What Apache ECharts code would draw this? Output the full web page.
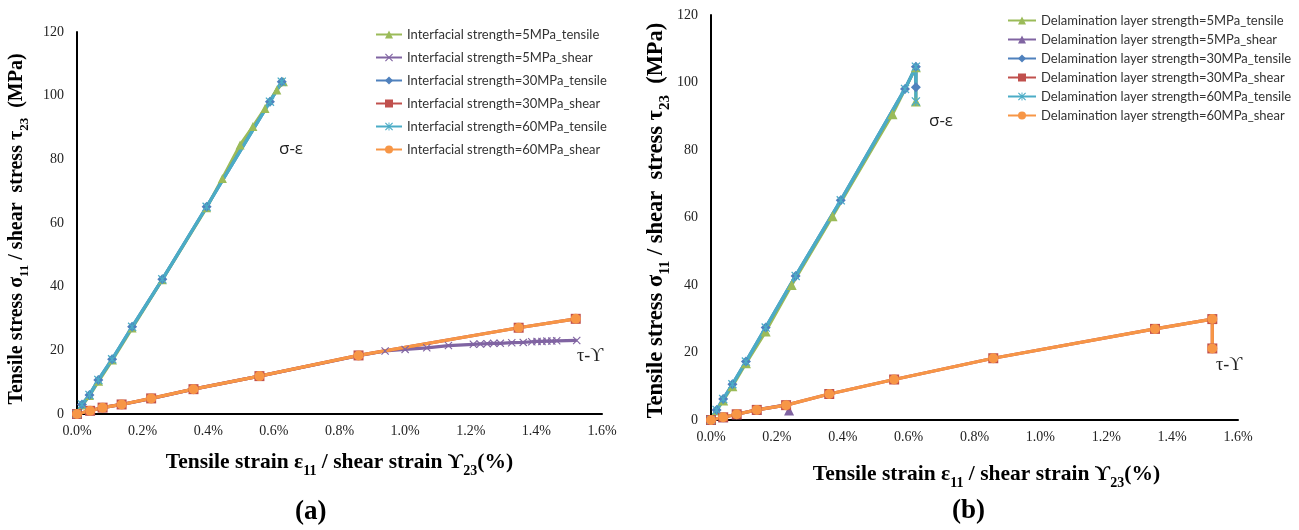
<!DOCTYPE html>
<html>
<head>
<meta charset="utf-8">
<script src="https://cdn.jsdelivr.net/npm/echarts@6/dist/echarts.min.js"></script>
<style>
  html, body { margin: 0; padding: 0; background: #fff; }
  #chart { width: 1299px; height: 530px; }
</style>
</head>
<body>
<div id="chart"></div>
<script>
// tick labels
var yTicks = [0, 20, 40, 60, 80, 100, 120];
var xTicks = [0, 0.2, 0.4, 0.6, 0.8, 1.0, 1.2, 1.4, 1.6];

// (a) interfacial strength, [strain %, stress MPa]
var aTensile5 = [[0,0],[0.017,2.8],[0.038,5.8],[0.066,10.3],[0.108,17.0],[0.168,27.0],[0.26,42.2],[0.395,64.8],[0.443,74.0],[0.497,84.5],[0.536,90.3],[0.573,96.0],[0.609,101.8],[0.629,104.4]];
var aShear5 = [[0,0],[0.04,1.0],[0.078,2.0],[0.136,3.0],[0.226,4.8],[0.355,7.8],[0.556,11.9],[0.858,18.3],[0.939,19.8],[1.0,20.3],[1.066,20.8],[1.132,21.5],[1.208,21.9],[1.229,22.0],[1.25,22.1],[1.27,22.2],[1.29,22.2],[1.325,22.4],[1.36,22.5],[1.386,22.7],[1.402,22.8],[1.417,22.8],[1.432,22.9],[1.447,22.9],[1.462,23.0],[1.523,23.1]];
var aTensile30 = [[0,0],[0.015,3.0],[0.038,6.0],[0.065,10.7],[0.107,17.2],[0.168,27.4],[0.26,42.3],[0.395,65.1],[0.588,98.1],[0.624,104.4]];
var aShear30 = [[0,0],[0.04,1.0],[0.078,2.0],[0.136,3.0],[0.226,4.9],[0.355,7.8],[0.556,11.9],[0.858,18.4],[1.346,27.1],[1.52,29.9]];
var aTensile60 = [[0,0],[0.015,3.0],[0.038,6.0],[0.065,10.7],[0.107,17.2],[0.168,27.4],[0.26,42.3],[0.395,65.1],[0.588,98.1],[0.624,104.4]];
var aShear60 = [[0,0],[0.04,1.0],[0.078,2.0],[0.136,3.0],[0.226,4.9],[0.355,7.8],[0.556,11.9],[0.858,18.4],[1.346,27.1],[1.52,29.9]];

// (b) delamination layer strength
var bTensile5 = [[0,0],[0.017,2.8],[0.037,5.8],[0.065,10.0],[0.106,16.8],[0.166,26.2],[0.245,40.0],[0.369,60.4],[0.551,90.6],[0.622,104.5],[0.622,94.4]];
var bShear5 = [[0,0],[0.037,0.8],[0.078,1.7],[0.139,3.0],[0.228,4.5],[0.237,2.8]];
var bTensile30 = [[0,0],[0.017,3.0],[0.037,6.2],[0.065,10.6],[0.106,17.3],[0.166,27.4],[0.257,42.7],[0.394,65.1],[0.589,98.1],[0.622,104.7],[0.622,98.6]];
var bShear30 = [[0,0],[0.037,0.8],[0.078,1.7],[0.139,3.0],[0.228,4.4],[0.359,7.7],[0.556,12.0],[0.857,18.3],[1.348,27.0],[1.522,29.9],[1.522,21.2]];
var bTensile60 = [[0,0],[0.017,3.0],[0.037,6.2],[0.065,10.6],[0.106,17.3],[0.166,27.4],[0.257,42.7],[0.394,65.1],[0.589,98.1],[0.622,104.7],[0.622,94.4]];
var bShear60 = [[0,0],[0.037,0.8],[0.078,1.7],[0.139,3.0],[0.228,4.4],[0.359,7.7],[0.556,12.0],[0.857,18.3],[1.348,27.0],[1.522,29.9],[1.522,21.2]];

var C = { green: '#9BBB59', purple: '#8064A2', blue: '#4F81BD', red: '#C0504D', cyan: '#4BACC6', orange: '#F79646' };
var SYM_X = 'path://M0,1L1,0L5,4L9,0L10,1L6,5L10,9L9,10L5,6L1,10L0,9L4,5Z';
var SYM_STAR = 'path://M0,1L1,0L5,4L9,0L10,1L6,5L10,9L9,10L5,6L1,10L0,9L4,5ZM4.4,0L5.6,0L5.6,10L4.4,10Z';
var SERIF = '"Liberation Serif", "DejaVu Serif", serif';

function line(name, data, color, symbol, size, idx) {
  return {
    name: name, type: 'line', data: data,
    xAxisIndex: idx, yAxisIndex: idx,
    symbol: symbol, symbolSize: size, showSymbol: true,
    lineStyle: { color: color, width: 3.2 },
    itemStyle: { color: color },
    emphasis: { disabled: true }
  };
}

function nameStyle(size, pad) {
  return {
    padding: pad || 0,
    rich: {
      b: { fontFamily: SERIF, fontWeight: 'bold', fontSize: size, color: '#000', lineHeight: Math.round(size * 1.2) },
      s: { fontFamily: SERIF, fontWeight: 'bold', fontSize: Math.round(size * 0.65), color: '#000', verticalAlign: 'bottom', lineHeight: Math.round(size * 1.45) }
    }
  };
}
var Y_NAME = '{b|Tensile stress σ}{s|11}{b| / shear  stress τ}{s|23}{b|  (MPa)}';
var X_NAME = '{b|Tensile strain ε}{s|11}{b| / shear strain ϒ}{s|23}{b|(%)}';

function xAxis(idx, gap, size, pad) {
  return {
    type: 'value', gridIndex: idx, min: 0, max: 1.6, interval: 0.2,
    name: X_NAME, nameLocation: 'middle', nameGap: gap, nameTextStyle: nameStyle(size, pad),
    axisLine: { lineStyle: { color: '#000', width: 2 } },
    axisTick: { show: false }, splitLine: { show: false },
    axisLabel: { fontFamily: SERIF, fontSize: 14, color: '#222', margin: 10,
      formatter: function (v) { return v.toFixed(1) + '%'; } }
  };
}
function yAxis(idx, gap, size, pad) {
  return {
    type: 'value', gridIndex: idx, min: 0, max: 120, interval: 20,
    name: Y_NAME, nameLocation: 'middle', nameGap: gap, nameTextStyle: nameStyle(size, pad),
    axisLine: { show: true, lineStyle: { color: '#000', width: 2 } },
    axisTick: { show: false }, splitLine: { show: false },
    axisLabel: { fontFamily: SERIF, fontSize: 14, color: '#222', margin: 13 }
  };
}

var aNames = ['Interfacial strength=5MPa_tensile', 'Interfacial strength=5MPa_shear', 'Interfacial strength=30MPa_tensile', 'Interfacial strength=30MPa_shear', 'Interfacial strength=60MPa_tensile', 'Interfacial strength=60MPa_shear'];
var bNames = ['Delamination layer strength=5MPa_tensile', 'Delamination layer strength=5MPa_shear', 'Delamination layer strength=30MPa_tensile', 'Delamination layer strength=30MPa_shear', 'Delamination layer strength=60MPa_tensile', 'Delamination layer strength=60MPa_shear'];

var chart = echarts.init(document.getElementById('chart'));
chart.setOption({
  animation: false,
  backgroundColor: '#fff',
  grid: [
    { left: 77, top: 32, width: 525, height: 382, outerBoundsMode: 'none' },
    { left: 711, top: 15, width: 527, height: 405, outerBoundsMode: 'none' }
  ],
  xAxis: [xAxis(0, 33, 21.5), xAxis(1, 39, 21.5, [0, 0, 0, 24])],
  yAxis: [yAxis(0, 46, 20, [0, 12, 0, 0]), yAxis(1, 35, 22.5, [0, 6, 0, 0])],
  legend: [
    { data: aNames, orient: 'vertical', left: 375, top: 28, padding: 0, itemWidth: 26, itemHeight: 10, itemGap: 10,
      textStyle: { fontFamily: 'Lato', fontSize: 13, color: '#333' } },
    { data: bNames, orient: 'vertical', left: 1007, top: 14, padding: 0, itemWidth: 28, itemHeight: 10, itemGap: 6,
      textStyle: { fontFamily: 'Lato', fontSize: 13, color: '#333' } }
  ],
  series: [
    line(aNames[0], aTensile5, C.green, 'triangle', 9, 0),
    line(aNames[1], aShear5, C.purple, SYM_X, 8, 0),
    line(aNames[2], aTensile30, C.blue, 'diamond', 10, 0),
    line(aNames[3], aShear30, C.red, 'rect', 10, 0),
    line(aNames[4], aTensile60, C.cyan, SYM_STAR, 9, 0),
    line(aNames[5], aShear60, C.orange, 'circle', 10, 0),
    line(bNames[0], bTensile5, C.green, 'triangle', 10, 1),
    line(bNames[1], bShear5, C.purple, 'triangle', 10, 1),
    line(bNames[2], bTensile30, C.blue, 'diamond', 10, 1),
    line(bNames[3], bShear30, C.red, 'rect', 10, 1),
    line(bNames[4], bTensile60, C.cyan, SYM_STAR, 9, 1),
    line(bNames[5], bShear60, C.orange, 'circle', 10, 1)
  ],
  graphic: [
    { type: 'text', left: 279, top: 141, style: { text: 'σ-ε', font: '17px "Open Sans", sans-serif', fill: '#222' } },
    { type: 'text', left: 577, top: 347, style: { text: 'τ-ϒ', font: '18px ' + SERIF, fill: '#222' } },
    { type: 'text', left: 929, top: 113, style: { text: 'σ-ε', font: '17px "Open Sans", sans-serif', fill: '#222' } },
    { type: 'text', left: 1216, top: 356, style: { text: 'τ-ϒ', font: '18px ' + SERIF, fill: '#222' } },
    { type: 'text', left: 295, top: 499, style: { text: '(a)', font: 'bold 27px ' + SERIF, fill: '#000' } },
    { type: 'text', left: 952, top: 498, style: { text: '(b)', font: 'bold 27px ' + SERIF, fill: '#000' } }
  ]
});
</script>
</body>
</html>
